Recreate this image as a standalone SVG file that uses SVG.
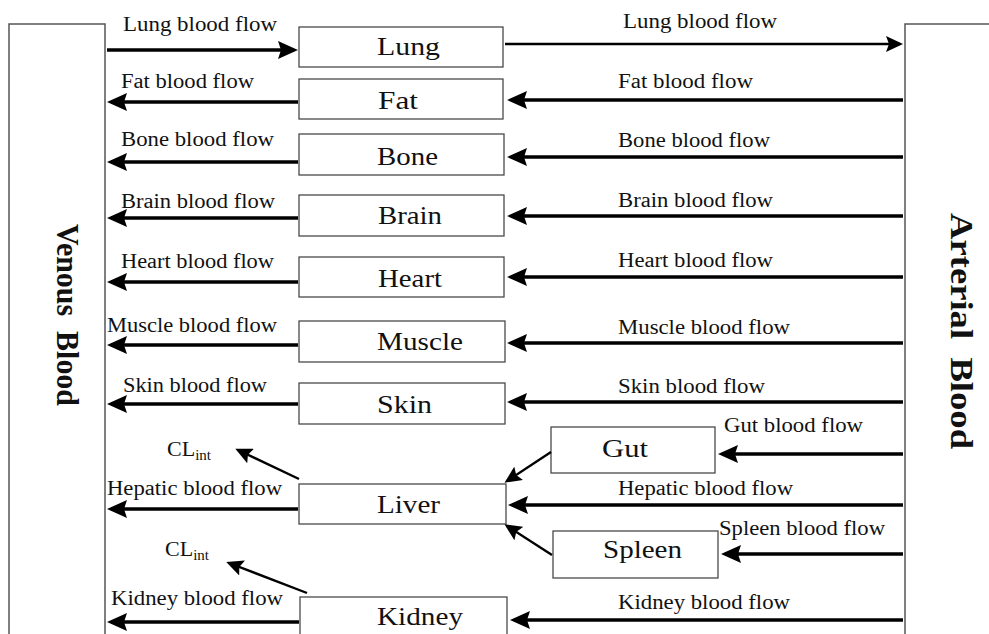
<svg xmlns="http://www.w3.org/2000/svg" width="989" height="634" viewBox="0 0 989 634">
<defs>
<style>
.bg{fill:#fff}
.box{fill:#fff;stroke:#4a4a4a;stroke-width:1.3}
.col{fill:#fff;stroke:#555;stroke-width:1.5}
.lbl{font-family:"Liberation Serif","Times New Roman",serif;font-size:20px;fill:#111}
.node{font-family:"Liberation Serif","Times New Roman",serif;font-size:26px;fill:#111}
.big{font-family:"Liberation Serif","Times New Roman",serif;font-size:32px;font-weight:bold;fill:#111}
.cl{font-family:"Liberation Serif","Times New Roman",serif;font-size:22px;fill:#111}
.a{stroke:#000;stroke-width:3.6;fill:none;marker-end:url(#ah)}
.t{stroke:#000;stroke-width:2.4;fill:none;marker-end:url(#ahs)}
</style>
<marker id="ah" markerUnits="userSpaceOnUse" markerWidth="20" markerHeight="20" viewBox="0 0 20 20" refX="16" refY="10" orient="auto">
<path d="M0,1 L20,10 L0,19 L3,10 z" fill="#000"/>
</marker>
<marker id="ahs" markerUnits="userSpaceOnUse" markerWidth="17" markerHeight="16" viewBox="0 0 17 16" refX="14" refY="8" orient="auto">
<path d="M0,0 L17,8 L0,16 L3,8 z" fill="#000"/>
</marker>
</defs>
<rect class="bg" x="0" y="0" width="989" height="634"/>

<g id="venous">
<rect class="col" x="9" y="24" width="96" height="630"/>
<text class="big" transform="translate(57,315) rotate(90)" text-anchor="middle" textLength="182" lengthAdjust="spacingAndGlyphs" xml:space="preserve">Venous  Blood</text>
</g>
<g id="arterial">
<rect class="col" x="905" y="24" width="100" height="630"/>
<text class="big" transform="translate(951,331) rotate(90)" text-anchor="middle" textLength="236" lengthAdjust="spacingAndGlyphs" xml:space="preserve">Arterial  Blood</text>
</g>

<g id="lung"><rect class="box" x="299" y="27" width="204" height="40"/><text class="node" x="377" y="55" textLength="63" lengthAdjust="spacingAndGlyphs">Lung</text></g>
<g id="fat"><rect class="box" x="299" y="79" width="204" height="40"/><text class="node" x="378" y="109" textLength="40" lengthAdjust="spacingAndGlyphs">Fat</text></g>
<g id="bone"><rect class="box" x="299" y="134" width="205" height="41"/><text class="node" x="377" y="165" textLength="61" lengthAdjust="spacingAndGlyphs">Bone</text></g>
<g id="brain"><rect class="box" x="299" y="195" width="205" height="41"/><text class="node" x="378" y="224" textLength="64" lengthAdjust="spacingAndGlyphs">Brain</text></g>
<g id="heart"><rect class="box" x="299" y="257" width="205" height="40"/><text class="node" x="378" y="287" textLength="64" lengthAdjust="spacingAndGlyphs">Heart</text></g>
<g id="muscle"><rect class="box" x="299" y="321" width="206" height="41"/><text class="node" x="377" y="350" textLength="86" lengthAdjust="spacingAndGlyphs">Muscle</text></g>
<g id="skin"><rect class="box" x="299" y="383" width="206" height="41"/><text class="node" x="377" y="413" textLength="55" lengthAdjust="spacingAndGlyphs">Skin</text></g>
<g id="gut"><rect class="box" x="551" y="427" width="164" height="46"/><text class="node" x="602" y="457" textLength="46" lengthAdjust="spacingAndGlyphs">Gut</text></g>
<g id="liver"><rect class="box" x="299" y="484" width="207" height="40"/><text class="node" x="377" y="513" textLength="63" lengthAdjust="spacingAndGlyphs">Liver</text></g>
<g id="spleen"><rect class="box" x="553" y="531" width="165" height="47"/><text class="node" x="603" y="558" textLength="79" lengthAdjust="spacingAndGlyphs">Spleen</text></g>
<g id="kidney"><rect class="box" x="300" y="597" width="207" height="60"/><text class="node" x="377" y="625" textLength="86" lengthAdjust="spacingAndGlyphs">Kidney</text></g>

<g id="connectors">
<line class="a" x1="107" y1="50" x2="294" y2="50"/>
<line class="t" x1="505" y1="44" x2="900" y2="44"/>
<line class="a" x1="298" y1="102" x2="111" y2="102"/>
<line class="a" x1="903" y1="100" x2="511" y2="100"/>
<line class="a" x1="298" y1="162" x2="111" y2="162"/>
<line class="a" x1="903" y1="157" x2="511" y2="157"/>
<line class="a" x1="298" y1="218" x2="111" y2="218"/>
<line class="a" x1="903" y1="216" x2="511" y2="216"/>
<line class="a" x1="298" y1="282" x2="111" y2="282"/>
<line class="a" x1="903" y1="277" x2="511" y2="277"/>
<line class="a" x1="298" y1="345" x2="111" y2="345"/>
<line class="a" x1="903" y1="343" x2="511" y2="343"/>
<line class="a" x1="298" y1="404" x2="111" y2="404"/>
<line class="a" x1="903" y1="402" x2="511" y2="402"/>
<line class="a" x1="903" y1="454" x2="722" y2="454"/>
<line class="a" x1="903" y1="505" x2="512" y2="505"/>
<line class="a" x1="903" y1="554" x2="725" y2="554"/>
<line class="a" x1="298" y1="509" x2="111" y2="509"/>
<line class="a" x1="903" y1="620" x2="514" y2="620"/>
<line class="a" x1="299" y1="622" x2="111" y2="622"/>
<line class="t" x1="551" y1="452" x2="507" y2="481"/>
<line class="t" x1="552" y1="555" x2="507" y2="526"/>
<line class="t" x1="299" y1="479" x2="238" y2="450"/>
<line class="t" x1="307" y1="593" x2="229" y2="563"/>
</g>

<g id="labels">
<text class="lbl" x="123" y="31" textLength="154" lengthAdjust="spacingAndGlyphs">Lung blood flow</text>
<text class="lbl" x="623" y="28" textLength="154" lengthAdjust="spacingAndGlyphs">Lung blood flow</text>
<text class="lbl" x="121" y="88" textLength="133" lengthAdjust="spacingAndGlyphs">Fat blood flow</text>
<text class="lbl" x="618" y="88" textLength="135" lengthAdjust="spacingAndGlyphs">Fat blood flow</text>
<text class="lbl" x="121" y="146" textLength="153" lengthAdjust="spacingAndGlyphs">Bone blood flow</text>
<text class="lbl" x="618" y="147" textLength="152" lengthAdjust="spacingAndGlyphs">Bone blood flow</text>
<text class="lbl" x="121" y="208" textLength="154" lengthAdjust="spacingAndGlyphs">Brain blood flow</text>
<text class="lbl" x="618" y="207" textLength="155" lengthAdjust="spacingAndGlyphs">Brain blood flow</text>
<text class="lbl" x="121" y="268" textLength="153" lengthAdjust="spacingAndGlyphs">Heart blood flow</text>
<text class="lbl" x="618" y="267" textLength="155" lengthAdjust="spacingAndGlyphs">Heart blood flow</text>
<text class="lbl" x="107" y="332" textLength="170" lengthAdjust="spacingAndGlyphs">Muscle blood flow</text>
<text class="lbl" x="618" y="334" textLength="172" lengthAdjust="spacingAndGlyphs">Muscle blood flow</text>
<text class="lbl" x="123" y="392" textLength="144" lengthAdjust="spacingAndGlyphs">Skin blood flow</text>
<text class="lbl" x="618" y="393" textLength="147" lengthAdjust="spacingAndGlyphs">Skin blood flow</text>
<text class="lbl" x="724" y="432" textLength="139" lengthAdjust="spacingAndGlyphs">Gut blood flow</text>
<text class="lbl" x="107" y="495" textLength="175" lengthAdjust="spacingAndGlyphs">Hepatic blood flow</text>
<text class="lbl" x="618" y="495" textLength="175" lengthAdjust="spacingAndGlyphs">Hepatic blood flow</text>
<text class="lbl" x="719" y="535" textLength="166" lengthAdjust="spacingAndGlyphs">Spleen blood flow</text>
<text class="lbl" x="111" y="605" textLength="172" lengthAdjust="spacingAndGlyphs">Kidney blood flow</text>
<text class="lbl" x="618" y="609" textLength="172" lengthAdjust="spacingAndGlyphs">Kidney blood flow</text>
<text class="cl" x="167" y="456">CL<tspan font-size="15" dy="4">int</tspan></text>
<text class="cl" x="165" y="556">CL<tspan font-size="15" dy="4">int</tspan></text>
</g>
</svg>
